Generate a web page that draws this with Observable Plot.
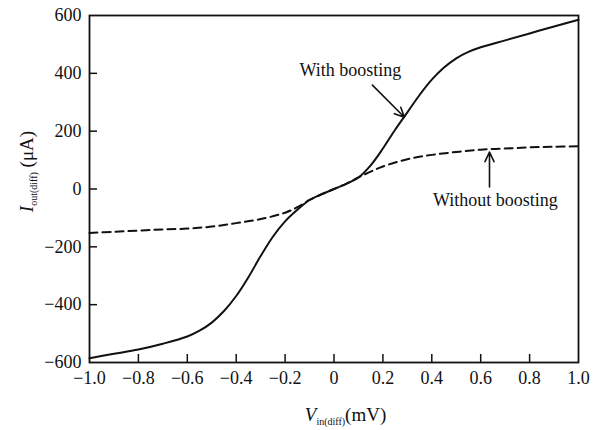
<!DOCTYPE html>
<html>
<head>
<meta charset="utf-8">
<script src="https://cdn.jsdelivr.net/npm/d3@7"></script>
<script src="https://cdn.jsdelivr.net/npm/@observablehq/plot@0.6"></script>
<style>
  html, body { margin: 0; padding: 0; background: #fff; }
  #chart svg { display: block; }
  #chart svg text { font-family: 'Liberation Serif', 'DejaVu Serif', serif !important; }
</style>
</head>
<body>
<div id="chart"></div>
<script>
// Input differential voltage (mV)
const vinWith = [-1.0, -0.9, -0.8, -0.7, -0.6, -0.55, -0.5, -0.45, -0.4, -0.35, -0.3, -0.25, -0.2, -0.15, -0.1, -0.05, 0, 0.05, 0.1, 0.15, 0.2, 0.25, 0.3, 0.35, 0.4, 0.45, 0.5, 0.55, 0.6, 0.7, 0.8, 0.9, 1.0];
// Output differential current with boosting (µA)
const ioutWith = [-585, -570, -555, -535, -510, -490, -462, -422, -370, -305, -232, -165, -112, -72, -38, -18, 0, 18, 40, 82, 140, 205, 265, 325, 378, 420, 452, 474, 490, 514, 538, 562, 585];

const vinWithout = [-1.0, -0.9, -0.8, -0.7, -0.6, -0.5, -0.4, -0.3, -0.2, -0.15, -0.1, -0.05, 0, 0.05, 0.1, 0.15, 0.2, 0.3, 0.4, 0.5, 0.6, 0.7, 0.8, 0.9, 1.0];
// Output differential current without boosting (µA)
const ioutWithout = [-152, -148, -144, -140, -137, -130, -118, -104, -82, -63, -38, -18, 0, 18, 40, 60, 78, 103, 118, 128, 136, 140, 144, 146, 148];

const xTicks = [-1.0, -0.8, -0.6, -0.4, -0.2, 0, 0.2, 0.4, 0.6, 0.8, 1.0];
const yTicks = [-600, -400, -200, 0, 200, 400, 600];

const labelTexts = ["With boosting", "Without boosting"];
const labelX = [0.067, 0.66];
const labelY = [410, -38];
const arrowX1 = [0.157, 0.636];
const arrowY1 = [359, 7];
const arrowX2 = [0.288, 0.636];
const arrowY2 = [248, 128];

const withData = vinWith.map((v, i) => ({v, i: ioutWith[i]}));
const withoutData = vinWithout.map((v, i) => ({v, i: ioutWithout[i]}));
const labels = labelTexts.map((t, k) => ({t, x: labelX[k], y: labelY[k]}));
const arrows = arrowX1.map((x1, k) => ({x1, y1: arrowY1[k], x2: arrowX2[k], y2: arrowY2[k]}));

const W = 600, H = 430;
const mL = 89, mR = 22, mT = 15, mB = 68;
const innerW = W - mL - mR, innerH = H - mT - mB;
const fmtX = d => d === 0 ? "0" : d3.format(".1f")(d);
const fmtY = d => d3.format("d")(d);

const font = "'Liberation Serif', 'DejaVu Serif', serif";

const chart = Plot.plot({
  width: W,
  height: H,
  marginLeft: mL,
  marginRight: mR,
  marginTop: mT,
  marginBottom: mB,
  style: {fontFamily: font, fontSize: "18px", color: "#111", background: "#fff"},
  x: {domain: [-1, 1]},
  y: {domain: [-600, 600]},
  marks: [
    Plot.axisX(xTicks, {tickSize: 0, tickPadding: 9, tickFormat: fmtX, label: null, fontSize: 18, fontFamily: font}),
    Plot.axisY(yTicks, {tickSize: 0, tickPadding: 8, tickFormat: fmtY, label: null, fontSize: 18, fontFamily: font}),
    Plot.tickX(xTicks.slice(1, -1), {x: d => d, insetTop: innerH - 8, stroke: "#111", strokeWidth: 1.5}),
    Plot.tickY(yTicks.slice(1, -1), {y: d => d, insetRight: innerW - 8, stroke: "#111", strokeWidth: 1.5}),
    Plot.line(withoutData, {x: "v", y: "i", stroke: "#111", strokeWidth: 2, strokeDasharray: "8,5", curve: "catmull-rom"}),
    Plot.line(withData, {x: "v", y: "i", stroke: "#111", strokeWidth: 2, curve: "catmull-rom"}),
    Plot.arrow(arrows, {x1: "x1", y1: "y1", x2: "x2", y2: "y2", stroke: "#111", strokeWidth: 1.6, headLength: 10, headAngle: 50}),
    Plot.text(labels, {x: "x", y: "y", text: "t", fontSize: 18, fontFamily: font, fill: "#111"}),
    Plot.frame({stroke: "#111", strokeWidth: 1.8})
  ]
});

document.getElementById("chart").appendChild(chart);

const svg = d3.select(chart);
svg.selectAll("text").attr("font-family", font).style("font-variant", "normal");

// Axis titles with subscripts
const yt = svg.append("text")
  .attr("transform", `translate(33, ${mT + innerH / 2 - 17}) rotate(-90)`)
  .attr("text-anchor", "middle")
  .attr("font-family", font)
  .attr("font-size", 19)
  .attr("fill", "#111");
yt.append("tspan").attr("font-style", "italic").text("I");
yt.append("tspan").attr("font-size", 10).attr("dy", 4).text("out(diff)");
yt.append("tspan").attr("dy", -4).text(" (\u03BCA)");

const xt = svg.append("text")
  .attr("x", mL + innerW / 2 + 12)
  .attr("y", 421)
  .attr("text-anchor", "middle")
  .attr("font-family", font)
  .attr("font-size", 19)
  .attr("fill", "#111");
xt.append("tspan").attr("font-style", "italic").text("V");
xt.append("tspan").attr("font-size", 10).attr("dy", 4).text("in(diff)");
xt.append("tspan").attr("dy", -4).text("(mV)");
</script>
</body>
</html>
